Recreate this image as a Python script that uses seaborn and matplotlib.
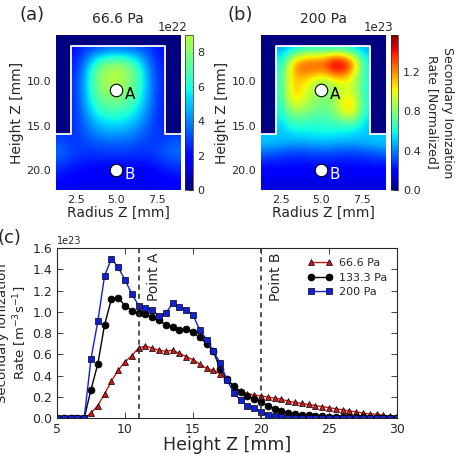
import numpy as np
import matplotlib
matplotlib.use('Agg')
import matplotlib.pyplot as plt
from matplotlib.colors import ListedColormap
from matplotlib.patches import Polygon
import seaborn as sns

sns.set_style('ticks')
plt.rcParams['font.family'] = ['DejaVu Sans']
plt.rcParams['xtick.direction'] = 'in'
plt.rcParams['ytick.direction'] = 'in'

#%% data
height = np.arange(5, 30.5, 0.5)
rate_66 = [0, 0, 0, 0, 0,
           0.05, 0.12, 0.23, 0.35, 0.45, 0.53, 0.59, 0.66, 0.68, 0.66,
           0.64, 0.63, 0.64, 0.61, 0.58, 0.55, 0.51, 0.47, 0.45, 0.42,
           0.37, 0.29, 0.26, 0.23, 0.22, 0.21, 0.20, 0.19, 0.18, 0.16,
           0.15, 0.14, 0.13, 0.12, 0.11, 0.10, 0.09, 0.08, 0.07, 0.06,
           0.05, 0.04, 0.04, 0.03, 0.02, 0.02]
rate_133 = [0, 0, 0, 0, 0,
            0.27, 0.51, 0.88, 1.12, 1.13, 1.06, 1.01, 0.99, 0.98, 0.95,
            0.92, 0.88, 0.86, 0.83, 0.84, 0.81, 0.76, 0.70, 0.63, 0.46,
            0.37, 0.30, 0.25, 0.21, 0.18, 0.15, 0.12, 0.09, 0.07, 0.05,
            0.04, 0.03, 0.03, 0.02, 0.02, 0.01, 0.01, 0.01, 0.01, 0.01,
            0.01, 0.005, 0.005, 0.005, 0.0, 0.0]
rate_200 = [0, 0, 0, 0, 0,
            0.56, 0.91, 1.34, 1.50, 1.42, 1.30, 1.17, 1.06, 1.04, 1.02,
            0.96, 0.99, 1.08, 1.05, 1.02, 0.97, 0.83, 0.74, 0.63, 0.52,
            0.36, 0.24, 0.17, 0.12, 0.10, 0.06, 0.03, 0.02, 0.01, 0.0,
            0, 0, 0, 0, 0, 0, 0, 0, 0, 0,
            0, 0, 0, 0, 0, 0]
series_labels = ['66.6 Pa', '133.3 Pa', '200 Pa']
series_colors = ['#cc1a1a', 'black', '#1020d8']
series_markers = ['^', 'o', 's']

# 2D maps (rows: height 4.8 -> 22.25 mm, cols: radius 1.25 -> 9.0 mm)
map_66 = [  # units 1e22
    [2.2, 2.2, 2.2, 2.6, 3.0, 3.3, 3.5, 3.6, 3.6, 3.5, 3.3, 3.0, 2.6, 2.2, 2.2, 2.2],
    [2.2, 2.2, 2.2, 2.6, 3.0, 3.3, 3.5, 3.6, 3.6, 3.5, 3.3, 3.0, 2.6, 2.2, 2.2, 2.2],
    [2.3, 2.3, 2.4, 3.2, 4.3, 5.2, 5.8, 6.0, 5.9, 5.5, 4.8, 3.8, 2.9, 2.3, 2.3, 2.3],
    [2.4, 2.4, 2.6, 3.8, 5.6, 7.1, 8.0, 8.3, 8.1, 7.4, 6.2, 4.6, 3.2, 2.4, 2.4, 2.4],
    [2.5, 2.5, 2.8, 4.2, 6.3, 7.9, 8.7, 8.9, 8.7, 8.0, 6.8, 5.0, 3.4, 2.5, 2.5, 2.5],
    [2.5, 2.5, 2.9, 4.3, 6.4, 8.0, 8.7, 8.8, 8.6, 7.9, 6.8, 5.1, 3.5, 2.5, 2.5, 2.5],
    [2.5, 2.5, 2.9, 4.3, 6.2, 7.7, 8.3, 8.4, 8.2, 7.6, 6.6, 5.0, 3.5, 2.5, 2.5, 2.5],
    [2.5, 2.5, 2.9, 4.2, 5.9, 7.2, 7.7, 7.8, 7.6, 7.1, 6.2, 4.8, 3.4, 2.5, 2.5, 2.5],
    [2.5, 2.5, 2.8, 4.0, 5.4, 6.4, 6.9, 7.0, 6.9, 6.4, 5.6, 4.4, 3.3, 2.5, 2.5, 2.5],
    [2.5, 2.5, 2.8, 3.7, 4.8, 5.6, 6.0, 6.1, 6.0, 5.6, 5.0, 4.0, 3.1, 2.5, 2.5, 2.5],
    [2.6, 2.6, 2.8, 3.4, 4.2, 4.8, 5.1, 5.2, 5.1, 4.8, 4.3, 3.6, 3.0, 2.6, 2.6, 2.6],
    [2.8, 2.8, 2.8, 3.2, 3.7, 4.1, 4.3, 4.4, 4.3, 4.1, 3.7, 3.3, 2.9, 2.8, 2.8, 2.8],
    [3.2, 3.0, 2.9, 3.0, 3.2, 3.4, 3.5, 3.5, 3.5, 3.4, 3.2, 3.0, 2.9, 3.0, 3.2, 3.4],
    [3.6, 3.2, 2.9, 2.8, 2.8, 2.9, 2.9, 2.9, 2.9, 2.9, 2.8, 2.8, 2.9, 3.2, 3.5, 3.7],
    [3.2, 2.9, 2.6, 2.5, 2.4, 2.4, 2.4, 2.4, 2.4, 2.4, 2.4, 2.4, 2.5, 2.8, 3.1, 3.2],
    [2.6, 2.4, 2.2, 2.1, 2.0, 2.0, 2.0, 2.0, 2.0, 2.0, 2.0, 2.0, 2.1, 2.3, 2.5, 2.6],
    [2.2, 2.0, 1.9, 1.8, 1.7, 1.7, 1.7, 1.7, 1.7, 1.7, 1.7, 1.7, 1.8, 1.9, 2.1, 2.2],
    [1.9, 1.8, 1.6, 1.5, 1.5, 1.5, 1.5, 1.5, 1.5, 1.5, 1.5, 1.5, 1.5, 1.6, 1.8, 1.9],
]
map_200 = [  # units 1e23
    [0.50, 0.50, 0.45, 0.50, 0.55, 0.60, 0.60, 0.60, 0.60, 0.60, 0.60, 0.55, 0.50, 0.45, 0.50, 0.50],
    [0.50, 0.50, 0.45, 0.50, 0.55, 0.60, 0.60, 0.60, 0.60, 0.60, 0.60, 0.55, 0.50, 0.45, 0.50, 0.50],
    [0.55, 0.55, 0.55, 0.70, 0.90, 1.00, 1.05, 1.05, 1.10, 1.20, 1.15, 1.00, 0.75, 0.55, 0.55, 0.55],
    [0.60, 0.60, 0.60, 0.90, 1.20, 1.28, 1.28, 1.28, 1.35, 1.50, 1.45, 1.30, 0.90, 0.60, 0.60, 0.60],
    [0.65, 0.65, 0.65, 0.95, 1.15, 1.20, 1.15, 1.10, 1.15, 1.25, 1.25, 1.10, 0.85, 0.60, 0.65, 0.65],
    [0.65, 0.65, 0.65, 0.95, 1.10, 1.05, 0.95, 0.85, 0.85, 0.95, 1.00, 0.95, 0.80, 0.60, 0.65, 0.65],
    [0.65, 0.65, 0.65, 0.95, 1.10, 1.00, 0.90, 0.85, 0.80, 0.85, 0.95, 0.95, 0.80, 0.60, 0.65, 0.65],
    [0.65, 0.65, 0.65, 0.90, 1.05, 0.95, 0.85, 0.80, 0.80, 0.85, 1.00, 1.05, 0.85, 0.60, 0.65, 0.65],
    [0.60, 0.60, 0.60, 0.80, 0.90, 0.85, 0.80, 0.75, 0.75, 0.85, 1.00, 1.10, 0.85, 0.60, 0.60, 0.60],
    [0.60, 0.60, 0.55, 0.70, 0.75, 0.75, 0.70, 0.70, 0.70, 0.75, 0.85, 0.90, 0.75, 0.55, 0.60, 0.60],
    [0.55, 0.55, 0.50, 0.60, 0.62, 0.62, 0.62, 0.63, 0.63, 0.63, 0.65, 0.65, 0.60, 0.50, 0.55, 0.55],
    [0.50, 0.50, 0.50, 0.52, 0.55, 0.55, 0.56, 0.57, 0.57, 0.56, 0.55, 0.54, 0.52, 0.50, 0.50, 0.50],
    [0.50, 0.50, 0.48, 0.46, 0.46, 0.46, 0.47, 0.48, 0.48, 0.47, 0.46, 0.46, 0.46, 0.48, 0.50, 0.50],
    [0.38, 0.36, 0.34, 0.33, 0.32, 0.32, 0.33, 0.34, 0.34, 0.33, 0.32, 0.32, 0.33, 0.34, 0.36, 0.38],
    [0.27, 0.26, 0.25, 0.24, 0.24, 0.24, 0.24, 0.25, 0.25, 0.24, 0.24, 0.24, 0.24, 0.25, 0.26, 0.27],
    [0.20, 0.20, 0.20, 0.20, 0.20, 0.20, 0.20, 0.20, 0.20, 0.20, 0.20, 0.20, 0.20, 0.20, 0.20, 0.20],
    [0.16, 0.16, 0.16, 0.16, 0.16, 0.16, 0.16, 0.16, 0.16, 0.16, 0.16, 0.16, 0.16, 0.16, 0.16, 0.16],
    [0.13, 0.13, 0.13, 0.13, 0.13, 0.13, 0.13, 0.13, 0.13, 0.13, 0.13, 0.13, 0.13, 0.13, 0.13, 0.13],
]
map_extent = (1.25, 9.0, 22.25, 4.8)
vmax_all = 1.57e23
vmax_66 = 9.0e22

# electrode outline and probe points
wall_x = [1.25, 2.2, 2.2, 8.04, 8.04, 9.0]
wall_y = [16.0, 16.0, 6.07, 6.07, 16.0, 16.0]
point_names = ['A', 'B']
point_r = [5.0, 5.0]
point_z = [11.0, 20.0]
point_text_color = ['black', 'white']

#%% figure
fig = plt.figure(figsize=(4.57, 4.54), dpi=100)
ax_a = fig.add_axes([0.1225, 0.5815, 0.273, 0.3414])
cax_a = fig.add_axes([0.4048, 0.5815, 0.0168, 0.3414])
ax_b = fig.add_axes([0.5711, 0.5815, 0.273, 0.3414])
cax_b = fig.add_axes([0.8556, 0.5815, 0.016, 0.3414])
ax_c = fig.add_axes([0.1247, 0.0786, 0.744, 0.375])

jet = plt.cm.jet
cmap_66 = ListedColormap(jet(np.linspace(0, vmax_66 / vmax_all, 256)))

maps = [(ax_a, cax_a, np.array(map_66) * 1e22, cmap_66, vmax_66, '66.6 Pa', '1e22'),
        (ax_b, cax_b, np.array(map_200) * 1e23, jet, vmax_all, '200 Pa', '1e23')]

for ax, cax, field, cmap, vmax, title, offset in maps:
    im = ax.imshow(field, cmap=cmap, vmin=0, vmax=vmax, extent=map_extent,
                   aspect='auto', interpolation='bicubic')
    outer = list(zip(wall_x, wall_y)) + [(map_extent[1], map_extent[3]), (map_extent[0], map_extent[3])]
    ax.add_patch(Polygon(outer, closed=True, facecolor=jet(0.0), edgecolor='none', zorder=2))
    ax.plot(wall_x, wall_y, color='white', lw=1.3, zorder=3)
    for name, r, z, tc in zip(point_names, point_r, point_z, point_text_color):
        ax.plot(r, z, 'o', ms=9, mfc='white', mec='black', mew=0.8, zorder=4)
        ax.text(r + 0.5, z + 0.5, name, color=tc, fontsize=11, va='center', ha='left', zorder=4)
    ax.set_xlim(map_extent[0], map_extent[1])
    ax.set_ylim(map_extent[2], map_extent[3])
    ax.set_xticks([2.5, 5.0, 7.5])
    ax.set_yticks([10.0, 15.0, 20.0])
    ax.set_xticklabels(['2.5', '5.0', '7.5'])
    ax.set_yticklabels(['10.0', '15.0', '20.0'])
    ax.tick_params(labelsize=8, length=0)
    ax.set_xlabel('Radius Z [mm]', fontsize=10, labelpad=1)
    ax.set_ylabel('Height Z [mm]', fontsize=10, labelpad=2)
    ax.set_title(title, fontsize=10, pad=9)
    for s in ax.spines.values():
        s.set_visible(False)
    cb = fig.colorbar(im, cax=cax)
    cb.outline.set_linewidth(0.5)
    cax.tick_params(labelsize=8, length=3, direction='in')
    cb.formatter.set_useOffset(False)
    cax.yaxis.get_offset_text().set_visible(False)
    cax.text(0.3, 1.005, offset, transform=cax.transAxes, ha='right', va='bottom', fontsize=8.5)

cax_a.set_yticks([0, 2e22, 4e22, 6e22, 8e22])
cax_a.set_yticklabels(['0', '2', '4', '6', '8'])
cax_b.set_yticks([0, 0.4e23, 0.8e23, 1.2e23])
cax_b.set_yticklabels(['0.0', '0.4', '0.8', '1.2'])

fig.text(0.07, 0.968, '(a)', fontsize=13, ha='center', va='center')
fig.text(0.525, 0.968, '(b)', fontsize=13, ha='center', va='center')
fig.text(0.02, 0.476, '(c)', fontsize=13, ha='center', va='center')
fig.text(0.962, 0.753, 'Secondary Ionization\nRate [Normalized]', fontsize=9,
         rotation=270, ha='center', va='center', multialignment='center')

#%% line plot
all_rates = [rate_66, rate_133, rate_200]
for vals, lab, col, mk in zip(all_rates, series_labels, series_colors, series_markers):
    sns.lineplot(x=height, y=np.array(vals) * 1e23, ax=ax_c, color=col, marker=mk,
                 markersize=5, markeredgecolor='black', markeredgewidth=0.5,
                 linewidth=1, label=lab)

for xv, name in [(11, 'Point A'), (20, 'Point B')]:
    ax_c.axvline(xv, color='#333333', ls='--', lw=1.2, dashes=(3, 2.5))
    ax_c.text(xv + 0.6, 1.56e23, name, rotation=90, fontsize=10, ha='left', va='top')

ax_c.set_xlim(5, 30)
ax_c.set_ylim(0, 1.6e23)
ax_c.set_yticks(np.arange(0, 1.61e23, 0.2e23))
ax_c.tick_params(labelsize=9, top=True, right=True, length=4, width=0.6)
ax_c.yaxis.get_offset_text().set_fontsize(7)
ax_c.set_xlabel('Height Z [mm]', fontsize=12.5, labelpad=0)
ax_c.set_ylabel('Secondary Ionization\nRate [m$^{-3}$s$^{-1}$]', fontsize=9.5, labelpad=2)
for s in ax_c.spines.values():
    s.set_linewidth(0.8)
ax_c.legend(loc='upper right', bbox_to_anchor=(1.0, 1.0), frameon=False, fontsize=8,
            numpoints=2, handlelength=2.2, labelspacing=0.4, handletextpad=0.6)

fig.savefig('out.png', dpi=100)
